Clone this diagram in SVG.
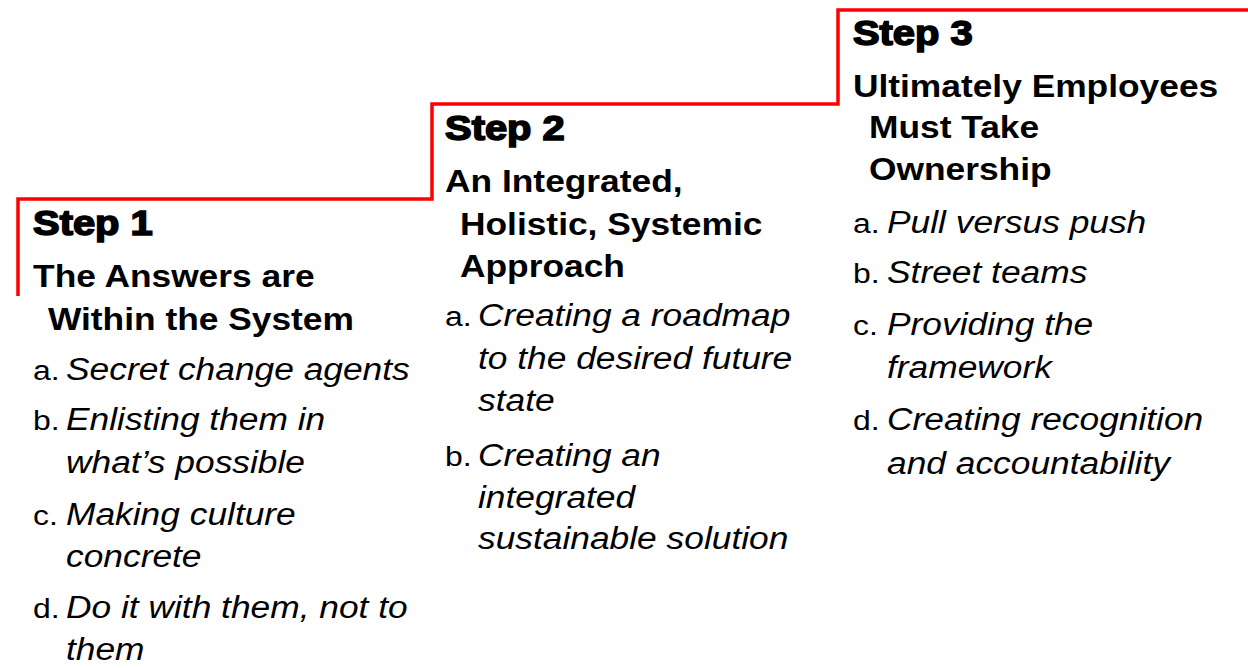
<svg xmlns="http://www.w3.org/2000/svg" width="1248" height="668" viewBox="0 0 1248 668">
<style>
.step{font-family:"Liberation Sans",Arial,sans-serif;font-weight:bold;font-size:35px;fill:#000;stroke:#000;stroke-width:1.6px}
.head{font-family:"Liberation Sans",Arial,sans-serif;font-weight:bold;font-size:31px;fill:#000}
.lbl{font-family:"Liberation Sans",Arial,sans-serif;font-size:28px;fill:#000}
.item{font-family:"Liberation Sans",Arial,sans-serif;font-style:italic;font-size:31px;fill:#000}
.stair{fill:none;stroke:#ff0000;stroke-width:3.5}
</style>
<rect width="1248" height="668" fill="#ffffff"/>
<g id="connectors">
<path class="stair" d="M18,296 V199 H432 V104 H838 V10 H1248"/>
</g>
<g id="step1" transform="scale(1.14 1)">
<text class="step" x="29" y="235">Step 1</text>
<text class="head" x="29" y="287">The Answers are</text>
<text class="head" x="42.1" y="330">Within the System</text>
<text class="lbl" x="29" y="380">a.</text>
<text class="item" x="57.9" y="380">Secret change agents</text>
<text class="lbl" x="29" y="430">b.</text>
<text class="item" x="57.9" y="430">Enlisting them in</text>
<text class="item" x="57.9" y="473">what’s possible</text>
<text class="lbl" x="29" y="525">c.</text>
<text class="item" x="57.9" y="525">Making culture</text>
<text class="item" x="57.9" y="567">concrete</text>
<text class="lbl" x="29" y="618">d.</text>
<text class="item" x="57.9" y="618">Do it with them, not to</text>
<text class="item" x="57.9" y="660">them</text>
</g>
<g id="step2" transform="scale(1.14 1)">
<text class="step" x="390.4" y="140">Step 2</text>
<text class="head" x="390.4" y="192">An Integrated,</text>
<text class="head" x="403.5" y="235">Holistic, Systemic</text>
<text class="head" x="403.5" y="277">Approach</text>
<text class="lbl" x="390.4" y="326">a.</text>
<text class="item" x="419.3" y="326">Creating a roadmap</text>
<text class="item" x="419.3" y="369">to the desired future</text>
<text class="item" x="419.3" y="411">state</text>
<text class="lbl" x="390.4" y="466">b.</text>
<text class="item" x="419.3" y="466">Creating an</text>
<text class="item" x="419.3" y="508">integrated</text>
<text class="item" x="419.3" y="549">sustainable solution</text>
</g>
<g id="step3" transform="scale(1.14 1)">
<text class="step" x="748.2" y="45">Step 3</text>
<text class="head" x="748.2" y="97">Ultimately Employees</text>
<text class="head" x="762.3" y="138">Must Take</text>
<text class="head" x="762.3" y="180">Ownership</text>
<text class="lbl" x="748.2" y="233">a.</text>
<text class="item" x="778.1" y="233">Pull versus push</text>
<text class="lbl" x="748.2" y="283">b.</text>
<text class="item" x="778.1" y="283">Street teams</text>
<text class="lbl" x="748.2" y="335">c.</text>
<text class="item" x="778.1" y="335">Providing the</text>
<text class="item" x="778.1" y="378">framework</text>
<text class="lbl" x="748.2" y="430">d.</text>
<text class="item" x="778.1" y="430">Creating recognition</text>
<text class="item" x="778.1" y="474">and accountability</text>
</g>
</svg>
